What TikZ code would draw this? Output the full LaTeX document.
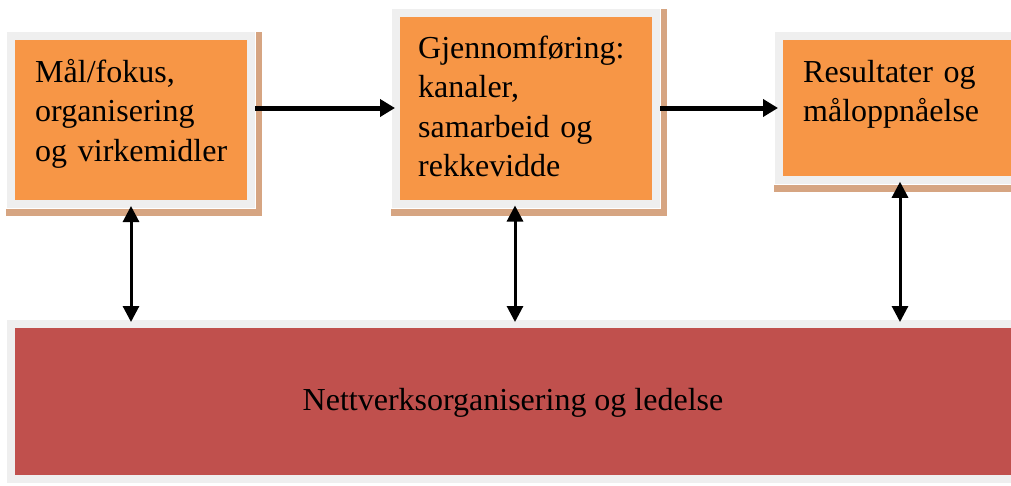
\documentclass[tikz,border=0pt]{standalone}
\usepackage{fontspec}
\setmainfont{Liberation Serif}
\usetikzlibrary{arrows.meta,backgrounds}
\definecolor{boxorange}{HTML}{F79646}
\definecolor{barred}{HTML}{C0504D}
\definecolor{framegray}{HTML}{EFEFEF}
\definecolor{shadowtan}{HTML}{D6A582}
\tikzset{
  stage/.style={rectangle, inner sep=0pt, fill=boxorange, draw=framegray,
    line width=8pt, preaction={draw=white, line width=10pt}},
  base/.style={rectangle, inner sep=0pt, fill=barred, draw=framegray, line width=8pt},
  lbl/.style={inner sep=0pt, align=left, text width=230pt,
    font=\fontsize{32}{39.5}\selectfont},
  flow/.style={-{Triangle[length=15pt,width=17pt]}, line width=5pt, shorten >=-3pt},
  link/.style={{Triangle[length=16pt,width=16pt]}-{Triangle[length=16pt,width=16pt]},
    line width=3pt, shorten >=-3pt, shorten <=-2pt},
  dropshadow/.style={fill=shadowtan}
}
\begin{document}
\begin{tikzpicture}[x=1pt,y=-1pt]
\useasboundingbox (0,0) rectangle (1011,485);
\clip (0,0) rectangle (1011,485);

% the three stages and the network bar
\node[stage, minimum width=240pt, minimum height=168pt] (maal) at (131,120) {};
\node[stage, minimum width=260pt, minimum height=191pt] (gjennom) at (526,108) {};
\node[stage, minimum width=238pt, minimum height=143.5pt] (resultat) at (898,108) {};
\node[base, minimum width=1004pt, minimum height=155pt] (nett) at (513,401.5) {};

% drop shadows behind the stages
\begin{pgfonlayer}{background}
  \foreach \b in {maal,gjennom,resultat}
    \fill[dropshadow] ([shift={(-1pt,0pt)}]\b.north west) rectangle ([shift={(7pt,-8pt)}]\b.south east);
\end{pgfonlayer}

% texts
\node[lbl, anchor=base west] (t1) at (35,82) {Mål/fokus,\\organisering\\og virkemidler};
\node[lbl, anchor=base west] (t2) at (418,58) {Gjennomføring:\\kanaler,\\samarbeid og\\rekkevidde};
\node[lbl, anchor=base west] (t3) at (803,82) {Resultater og\\måloppnåelse};
\node[font=\fontsize{32}{39.5}\selectfont, inner sep=0pt, anchor=base] (t4) at (513,410) {Nettverksorganisering og ledelse};

% flow between the stages
\draw[flow] (maal.east |- gjennom.west) -- (gjennom.west);
\draw[flow] (gjennom.east) -- (resultat.west);

% links between each stage and the network bar
\coordinate (n1) at ([yshift=1pt]maal.south |- nett.north);
\coordinate (n2) at ([shift={(-11pt,1pt)}]gjennom.south |- nett.north);
\coordinate (n3) at ([shift={(2pt,1pt)}]resultat.south |- nett.north);
\draw[link] (maal.south) -- (n1);
\draw[link] ([xshift=-11pt]gjennom.south) -- (n2);
\draw[link] ([xshift=2pt]resultat.south) -- (n3);
\end{tikzpicture}
\end{document}
